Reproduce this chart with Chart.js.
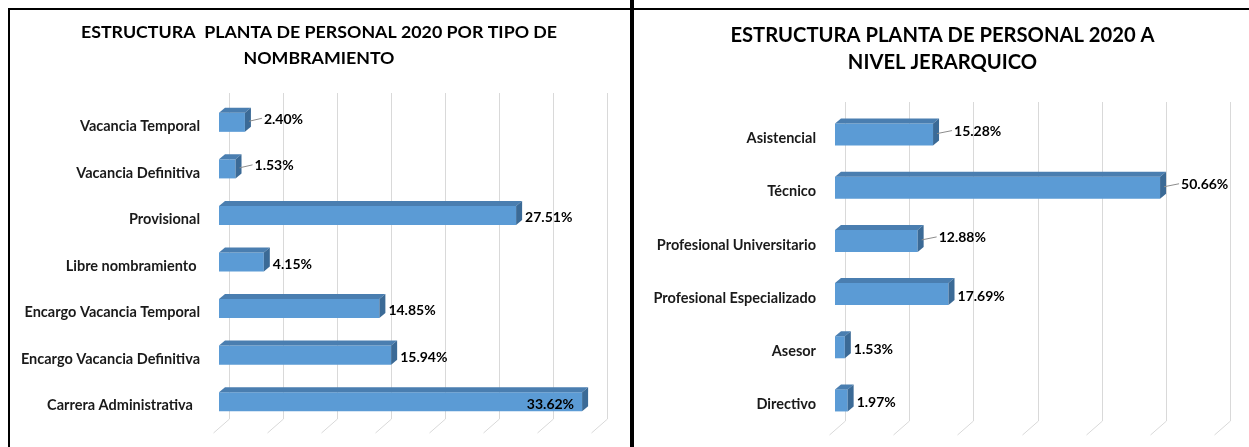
<!DOCTYPE html>
<html>
<head>
<meta charset="utf-8">
<script src="https://cdn.jsdelivr.net/npm/chart.js@4.4.0/dist/chart.umd.min.js"></script>
<style>
  body { margin: 0; background: #fff; width: 1249px; height: 447px; overflow: hidden; position: relative; }
  .line { position: absolute; background: #000; }
  canvas { position: absolute; top: 10px; }
</style>
</head>
<body>
<div class="line" style="left:8px;top:8px;width:622px;height:2px"></div>
<div class="line" style="left:8px;top:8px;width:2px;height:439px"></div>
<div class="line" style="left:630px;top:0;width:4px;height:447px"></div>
<div class="line" style="left:634px;top:8px;width:615px;height:2px"></div>
<canvas id="tipoChart" width="618" height="437" style="left:10px"></canvas>
<canvas id="nivelChart" width="613" height="437" style="left:636px"></canvas>
<script>
// Data
const tipoTitle = ["ESTRUCTURA  PLANTA DE PERSONAL 2020 POR TIPO DE", "NOMBRAMIENTO"];
const tipoLabels = ["Vacancia Temporal", "Vacancia Definitiva", "Provisional", "Libre nombramiento ",
  "Encargo Vacancia Temporal", "Encargo Vacancia Definitiva", "Carrera Administrativa  "];
const tipoValues = [2.40, 1.53, 27.51, 4.15, 14.85, 15.94, 33.62];

const nivelTitle = ["ESTRUCTURA PLANTA DE PERSONAL 2020 A", "NIVEL JERARQUICO"];
const nivelLabels = ["Asistencial", "Técnico", "Profesional Universitario", "Profesional Especializado",
  "Asesor", "Directivo"];
const nivelValues = [15.28, 50.66, 12.88, 17.69, 1.53, 1.97];

const FONT = "Lato, 'Liberation Sans', sans-serif";

// Fake 3D: back-wall gridlines, bar top/side faces, value labels and a centred title
const bar3d = {
  id: "bar3d",
  beforeDatasetsDraw(chart, args, opts) {
    const { ctx, chartArea } = chart;
    const x = chart.scales.x;
    ctx.save();
    ctx.strokeStyle = "#d9d9d9";
    ctx.lineWidth = 1;
    for (let v = x.min; v <= x.max + 0.001; v += opts.step) {
      const xf = Math.round(x.getPixelForValue(v)) + 0.5;
      const xb = xf + opts.wall;
      ctx.beginPath();
      ctx.moveTo(xb, chartArea.top - 6);
      ctx.lineTo(xb, chartArea.bottom - 6);
      ctx.lineTo(xf - 6, chartArea.bottom + 8);
      ctx.stroke();
    }
    ctx.restore();
  },
  afterDatasetsDraw(chart, args, opts) {
    const { ctx } = chart;
    const meta = chart.getDatasetMeta(0);
    const data = chart.data.datasets[0].data;
    const dx = opts.depth, dy = opts.depth - 1;
    ctx.save();
    meta.data.forEach((bar, i) => {
      const x0 = bar.base, x1 = bar.x;
      const top = bar.y - bar.height / 2, bottom = bar.y + bar.height / 2;
      ctx.fillStyle = "#4a7eb0";
      ctx.beginPath();
      ctx.moveTo(x0, top); ctx.lineTo(x0 + dx, top - dy);
      ctx.lineTo(x1 + dx, top - dy); ctx.lineTo(x1, top);
      ctx.closePath(); ctx.fill();
      ctx.fillStyle = "#3b6a96";
      ctx.beginPath();
      ctx.moveTo(x1, top); ctx.lineTo(x1 + dx, top - dy);
      ctx.lineTo(x1 + dx, bottom - dy); ctx.lineTo(x1, bottom);
      ctx.closePath(); ctx.fill();

      // value label
      const text = data[i].toFixed(2) + "%";
      ctx.font = "bold " + opts.labelSize + "px " + FONT;
      ctx.fillStyle = "#000";
      ctx.textBaseline = "middle";
      const w = ctx.measureText(text).width;
      const lead = opts.leaders.includes(i) ? opts.leaderLen : 0;
      let lx = x1 + dx + 3 + lead;
      if (lx + w > chart.width - 2) {
        ctx.textAlign = "right";
        ctx.fillText(text, x1 - 8, bar.y + 3);
        return;
      }
      ctx.textAlign = "left";
      if (lead) {
        ctx.strokeStyle = "#8c8c8c";
        ctx.beginPath();
        ctx.moveTo(x1 + dx - 2, bar.y - 1);
        ctx.lineTo(lx - 2, bar.y - 4);
        ctx.stroke();
        ctx.fillText(text, lx, bar.y - 3);
      } else {
        ctx.fillText(text, lx, bar.y + 2);
      }
    });
    ctx.restore();
  },
  afterDraw(chart, args, opts) {
    const { ctx } = chart;
    ctx.save();
    ctx.font = "bold " + opts.titleSize + "px " + FONT;
    ctx.fillStyle = "#000";
    ctx.textAlign = "center";
    ctx.textBaseline = "middle";
    opts.title.forEach((line, i) => {
      ctx.fillText(line, chart.width / 2, opts.titleY + i * opts.titleGap);
    });
    ctx.restore();
  }
};

function makeChart(id, title, labels, values, cfg) {
  new Chart(document.getElementById(id), {
    type: "bar",
    data: {
      labels: labels,
      datasets: [{
        data: values,
        backgroundColor: "#5b9bd5",
        borderWidth: 0,
        barPercentage: cfg.barPct,
        categoryPercentage: 1
      }]
    },
    options: {
      indexAxis: "y",
      responsive: false,
      animation: false,
      layout: { padding: { top: cfg.padTop, right: cfg.padRight, bottom: cfg.padBottom } },
      plugins: {
        legend: { display: false },
        tooltip: { enabled: false },
        title: { display: false },
        bar3d: { step: cfg.step, wall: 10, depth: 6, labelSize: 14,
          leaders: cfg.leaders, leaderLen: cfg.leaderLen,
          title: title, titleSize: cfg.titleSize, titleY: cfg.titleY, titleGap: cfg.titleGap }
      },
      scales: {
        x: { display: false, min: 0, max: cfg.max },
        y: {
          grid: { display: false },
          border: { display: false },
          ticks: { color: "#1a1a1a", padding: cfg.tickPad, labelOffset: 4,
            font: { family: FONT, size: 14.5, weight: "bold" } },
          afterFit: (s) => { s.width = cfg.yWidth; }
        }
      }
    },
    plugins: [bar3d]
  });
}

makeChart("tipoChart", tipoTitle, tipoLabels, tipoValues, {
  max: 35, step: 5, barPct: 0.41, padTop: 89, padRight: 31, padBottom: 22,
  titleSize: 17.8, titleY: 22, titleGap: 26, tickPad: 11, yWidth: 209,
  leaders: [0, 1], leaderLen: 10
});

makeChart("nivelChart", nivelTitle, nivelLabels, nivelValues, {
  max: 60, step: 10, barPct: 0.415, padTop: 98, padRight: 29, padBottom: 20,
  titleSize: 20.2, titleY: 25, titleGap: 27, tickPad: 11, yWidth: 199,
  leaders: [0, 1, 2], leaderLen: 12
});
</script>
</body>
</html>
